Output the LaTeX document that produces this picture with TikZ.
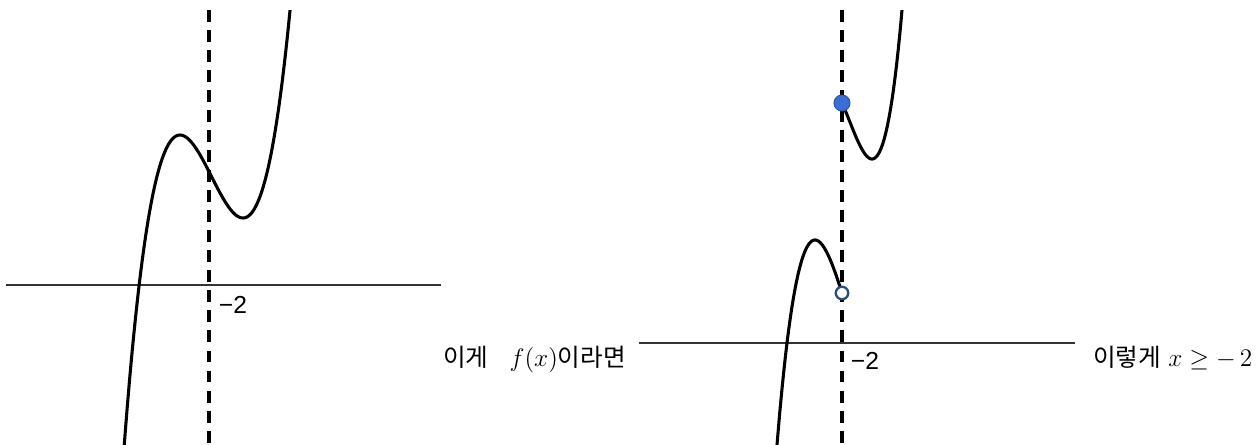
\documentclass[tikz,border=0pt]{standalone}
\usepackage{fontspec}
\newfontfamily\kr{Noto Sans CJK KR}
\newfontfamily\lab{Liberation Sans}
\begin{document}
\begin{tikzpicture}[x=0.02cm,y=0.02cm,
  axisline/.style={line width=0.85pt,draw=black!80},
  asym/.style={line width=2pt,dash pattern=on 6.8pt off 4.6pt},
  curve/.style={line width=1.75pt,line join=round},
  ticklab/.style={font=\lab\fontsize{14pt}{16pt}\selectfont,inner sep=0pt},
  remark/.style={font=\fontsize{14pt}{16pt}\selectfont,inner sep=0pt,anchor=base west}]
\useasboundingbox (0,0) rectangle (1258,444);
% ---------- left graph ----------
\coordinate (la1) at (6,159);
\coordinate (la2) at (441,159);
\draw[axisline] (la1) -- (la2);
\coordinate (ld1) at (209,434);
\coordinate (ld2) at (209,0);
\draw[asym] (ld1) -- (ld2);
\begin{scope}
\clip (0,0) rectangle (1258,434);
\draw[curve] plot[domain=124:291,samples=120,smooth]
  (\x,{0.664*((\x-211.5)/10)^3 - 1.976*(\x-211.5) + 267.5});
\end{scope}
\node[ticklab] (lt) at (233,139) {−2};
\node[remark] (ltext) at (443,78) {{\kr 이게}\hspace{12pt}$f(x)${\kr 이라면}};
% ---------- right graph ----------
\coordinate (ra1) at (639,101);
\coordinate (ra2) at (1075,101);
\draw[axisline] (ra1) -- (ra2);
\coordinate (rd1) at (842,434);
\coordinate (rd2) at (842,0);
\draw[asym] (rd1) -- (rd2);
\begin{scope}
\clip (0,0) rectangle (1258,434);
\draw[curve] plot[domain=776:842,samples=80,smooth]
  (\x,{204 - 10.15*((\x-815)/10)^2 + 1.067*((\x-815)/10)^3});
\draw[curve] plot[domain=842:904,samples=80,smooth]
  (\x,{285 + 11.39*((\x-872)/10)^2 + 1.722*((\x-872)/10)^3});
\end{scope}
\node[circle,inner sep=0pt,fill={rgb,255:red,58;green,110;blue,214},draw={rgb,255:red,45;green,85;blue,170},line width=0.6pt,minimum size=0.32cm] (closed) at (842,341) {};
\node[circle,inner sep=0pt,minimum size=0.25cm,fill=white,draw={rgb,255:red,45;green,75;blue,125},line width=1.3pt] (open) at (842,151) {};
\node[ticklab] (rt) at (865,83) {−2};
\node[remark] (rtext) at (1093,78) {{\kr 이렇게}\hspace{4pt}$x\geq -\,2$};
\end{tikzpicture}
\end{document}
